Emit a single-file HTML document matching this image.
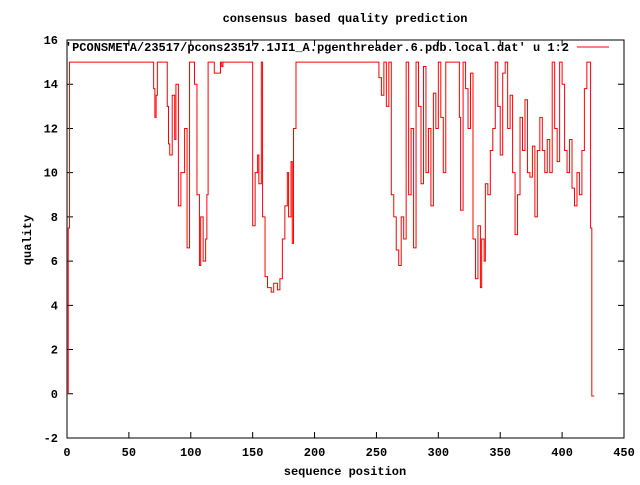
<!DOCTYPE html>
<html><head><meta charset="utf-8"><style>
body{margin:0;background:#fff}
svg text{font-family:"Liberation Mono","DejaVu Sans Mono",monospace;font-size:12px;font-weight:bold;fill:#000}
</style></head><body>
<svg id="chart" width="640" height="480" xmlns="http://www.w3.org/2000/svg">
<rect width="640" height="480" fill="#fff"/>
<text x="345" y="22" text-anchor="middle">consensus based quality prediction</text>
<g id="axes"></g>
<text x="345" y="475" text-anchor="middle">sequence position</text>
<text transform="translate(31,240) rotate(-90)" text-anchor="middle">quality</text>
<text x="569" y="51" text-anchor="end">'PCONSMETA/23517/pcons23517.1JI1_A.pgenthreader.6.pdb.local.dat' u 1:2</text>
<line x1="577" y1="47" x2="609" y2="47" stroke="#f00" stroke-width="1"/>
<rect x="67" y="40" width="557" height="398" fill="none" stroke="#000" stroke-width="1"/>
<path id="series" fill="none" stroke="#f00" stroke-width="1"/>
</svg>
<script>
const xTicks=[0,50,100,150,200,250,300,350,400,450];
const yTicks=[-2,0,2,4,6,8,10,12,14,16];
const positions=[0,1,2,69,70,71,72,73,80,81,82,83,85,87,88,90,92,95,97,99,101,103,105,107,108,110,112,113,114,118,119,124,125,126,150,152,154,155,157,158,160,162,165,167,170,172,174,176,178,179,181,182,183,185,251,252,254,256,258,260,262,264,266,268,270,272,274,276,278,280,282,284,286,288,290,292,294,296,298,300,302,304,306,316,317,318,320,322,324,326,328,330,332,334,335,337,338,340,342,344,346,348,350,352,354,356,358,360,362,364,366,368,370,372,374,376,378,380,382,384,386,388,390,392,394,396,398,400,402,404,406,408,410,412,414,416,418,420,422,423,424,426];
const quality=[0,7.5,15,15,13.8,12.5,13.5,15,15,13,11.3,10.8,13.5,11.5,14,8.5,10,12,6.6,15,15,14,9,5.8,8,6,7,9,15,15,14.5,15,14.8,15,7.6,10,10.8,9.5,15,8,5.3,4.8,4.6,5,4.7,5.2,7,8.5,10,8,10.5,6.8,12,15,15,14.3,13.5,15,13,15,9,8,6.5,5.8,8,7,15,9,12,6.6,15,13,9.5,14.8,10,12,8.5,13.6,12,15,12.5,10,15,15,12.5,8.3,15,13.8,12,14.5,7,5.2,7.6,4.8,7,6,9.5,9,11,12,15,13,10.8,14.5,15,12,13.5,10,7.2,9,12.5,11,13.3,10,9.8,11.2,8,11,12.5,11,10,11.5,10,15,12,10.5,15,14,11,10,11.5,9.3,8.5,10,9,11,13.8,15,15,7.5,-0.1,-0.1];
const X0=67,X1=624,Y0=438,Y1=40;
function sx(v){return X0+(v-0)/(450-0)*(X1-X0);}
function sy(v){return Y0-(v-(-2))/(16-(-2))*(Y0-Y1);}
const NS="http://www.w3.org/2000/svg";
const axes=document.getElementById('axes');
xTicks.forEach(t=>{
  const x=sx(t);
  const l=document.createElementNS(NS,'path');
  
  
  l.setAttribute('d',`M${x},${Y0}v-6M${x},${Y1}v6`);
  l.setAttribute('stroke','#000');
  axes.appendChild(l);
  const tx=document.createElementNS(NS,'text');
  
  
  tx.setAttribute('x',x);tx.setAttribute('y',Y0+18);tx.setAttribute('text-anchor','middle');
  tx.textContent=t;axes.appendChild(tx);
});
yTicks.forEach(t=>{
  const y=sy(t);
  const l=document.createElementNS(NS,'path');
  
  
  l.setAttribute('d',`M${X0},${y}h6M${X1},${y}h-6`);
  l.setAttribute('stroke','#000');
  axes.appendChild(l);
  const tx=document.createElementNS(NS,'text');
  
  
  tx.setAttribute('x',X0-9);tx.setAttribute('y',y+4);tx.setAttribute('text-anchor','end');
  tx.textContent=t;axes.appendChild(tx);
});
let d=`M${sx(positions[0])},${sy(quality[0])}`;
for(let i=1;i<positions.length;i++){
  d+=`H${sx(positions[i])}V${sy(quality[i])}`;
}
document.getElementById('series').setAttribute('d',d);
</script>
</body></html>
